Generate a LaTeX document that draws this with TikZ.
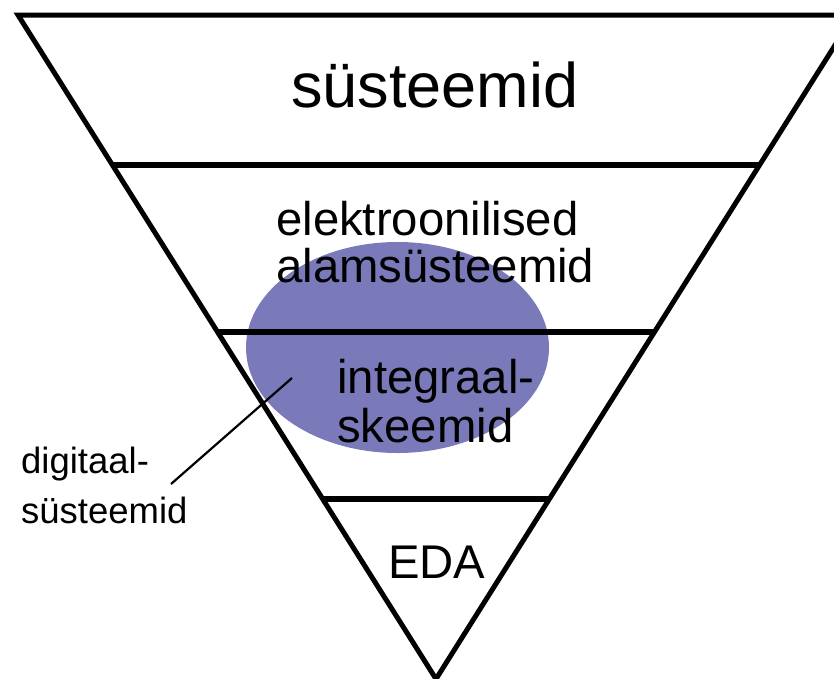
\documentclass[tikz,border=0pt]{standalone}
\usepackage{fontspec}
\setmainfont{Liberation Sans}
\usetikzlibrary{calc}
\definecolor{blobblue}{RGB}{122,122,187}
\begin{document}
\begin{tikzpicture}[x=1pt,y=-1pt,
  frame/.style={line width=5pt, line join=miter},
  tier/.style={line width=6pt},
  lbl/.style={inner sep=0pt, anchor=base west, text=black},
  big/.style={font=\fontsize{63}{63}\selectfont},
  mid/.style={font=\fontsize{47.3}{47.3}\selectfont},
  small/.style={font=\fontsize{36.5}{36.5}\selectfont},
  leader/.style={line width=2.2pt}]
\useasboundingbox (0,0) rectangle (834,678);

% corners of the inverted triangle
\coordinate (tl) at (18,15);
\coordinate (tr) at (854,15);
\coordinate (apex) at (436,679);

% overlap region between the two middle tiers
\fill[blobblue] (397.5,347.5) ellipse [x radius=151.5pt, y radius=105.5pt];

% outline
\draw[frame] (tl) -- (tr) -- (apex) -- cycle;

% tier boundaries
\foreach \yy/\nm in {165/b1, 332/b2, 499/b3} {
  \coordinate (\nm l) at ($(tl)!{(\yy-15)/664}!(apex)$);
  \coordinate (\nm r) at ($(tr)!{(\yy-15)/664}!(apex)$);
  \draw[tier] (\nm l) -- (\nm r);
}

% tier labels
\node[lbl, big] (sys) at (291,107) {süsteemid};
\node[lbl, mid] (el1) at (276,235) {elektroonilised};
\node[lbl, mid] (el2) at (276,282) {alamsüsteemid};
\node[lbl, mid] (ic1) at (337,393) {integraal-};
\node[lbl, mid] (ic2) at (337,442) {skeemid};
\node[lbl, mid] (eda) at (388,578) {EDA};

% side label with leader line
\node[lbl, small] (dg1) at (21,473) {digitaal-};
\node[lbl, small] (dg2) at (21,523) {süsteemid};
\coordinate (dgEnd) at (171,484);
\coordinate (dgTip) at (292,378);
\draw[leader] (dgEnd) -- (dgTip);
\end{tikzpicture}
\end{document}
